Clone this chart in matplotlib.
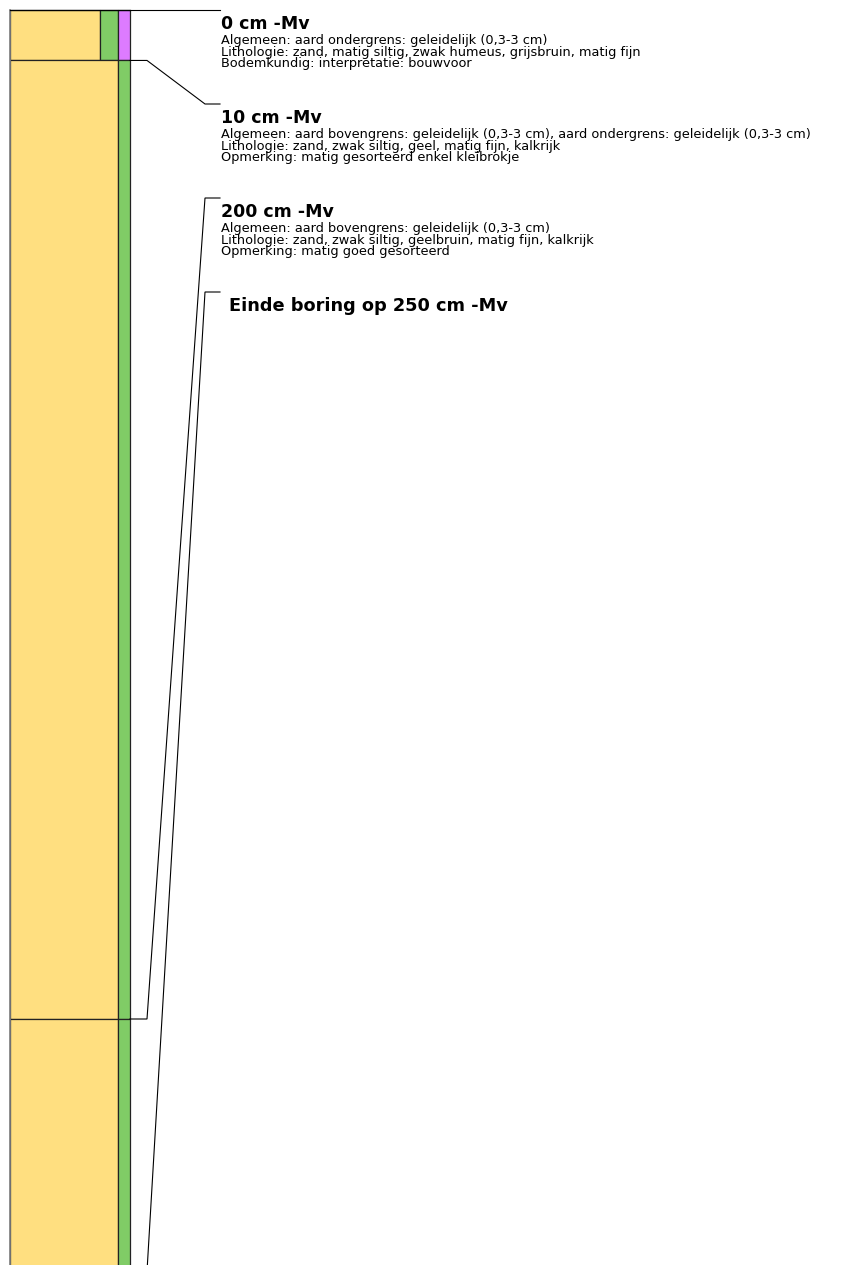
import matplotlib
matplotlib.use("Agg")
import matplotlib.pyplot as plt
from matplotlib.patches import Rectangle

# ---- data ----
layer_tops = [0, 10, 200]          # cm -Mv
layer_bottoms = [10, 200, 250]     # cm -Mv
# colour components of every layer (left to right)
layer_colors = [["#FFDF80", "#80CC66", "#DD7BFF"],
                ["#FFDF80", "#80CC66"],
                ["#FFDF80", "#80CC66"]]
layer_widths = [[90, 18, 12],
                [108, 12],
                [108, 12]]

label_depths = [0, 10, 200]
label_titles = ["0 cm -Mv", "10 cm -Mv", "200 cm -Mv"]
label_lines = [
    ["Algemeen: aard ondergrens: geleidelijk (0,3-3 cm)",
     "Lithologie: zand, matig siltig, zwak humeus, grijsbruin, matig fijn",
     "Bodemkundig: interpretatie: bouwvoor"],
    ["Algemeen: aard bovengrens: geleidelijk (0,3-3 cm), aard ondergrens: geleidelijk (0,3-3 cm)",
     "Lithologie: zand, zwak siltig, geel, matig fijn, kalkrijk",
     "Opmerking: matig gesorteerd enkel kleibrokje"],
    ["Algemeen: aard bovengrens: geleidelijk (0,3-3 cm)",
     "Lithologie: zand, zwak siltig, geelbruin, matig fijn, kalkrijk",
     "Opmerking: matig goed gesorteerd"],
]
end_depth = 250
end_text = "Einde boring op 250 cm -Mv"

# ---- layout ----
W, H = 866, 1265
TOP_PX = 10
PX_PER_CM = (1019 - 10) / 200.0
COL_X0 = 10


def px2cm(ypx):
    return (ypx - TOP_PX) / PX_PER_CM


plt.rcParams["font.family"] = ["DejaVu Sans"]
fig = plt.figure(figsize=(W / 100, H / 100), dpi=100)
ax = fig.add_axes([0, 0, 1, 1])
ax.set_xlim(0, W)
ax.set_ylim(px2cm(H), px2cm(0))
ax.axis("off")

# column
for top, bot, cols, wids in zip(layer_tops, layer_bottoms, layer_colors, layer_widths):
    x = COL_X0
    for c, w in zip(cols, wids):
        ax.add_patch(Rectangle((x, top), w, bot - top, facecolor=c,
                               edgecolor="#222222", linewidth=0.9, zorder=2))
        x += w
col_right = COL_X0 + sum(layer_widths[0])
# grey outer left edge
ax.plot([COL_X0, COL_X0], [layer_tops[0], layer_bottoms[-1]], color="#808080",
        linewidth=1.2, zorder=3)
ax.plot([COL_X0, col_right], [0, 0], color="black", linewidth=0.9, zorder=3)

# labels and leader lines
BLOCK_PX = 94
leader_px = [TOP_PX + i * BLOCK_PX for i in range(len(label_depths) + 1)]
depths_all = label_depths + [end_depth]
for i, d in enumerate(depths_all):
    ly = px2cm(leader_px[i])
    ax.plot([col_right, 147, 205, 220], [d, d, ly, ly], color="black",
            linewidth=0.8, zorder=3, solid_joinstyle="miter", clip_on=False)

for i, (title, lines) in enumerate(zip(label_titles, label_lines)):
    base = leader_px[i]
    ax.text(221, px2cm(base + 19), title, fontsize=12.5, fontweight="bold",
            va="baseline", ha="left")
    for j, ln in enumerate(lines):
        ax.text(221, px2cm(base + 34 + j * 11.6), ln, fontsize=9.3,
                va="baseline", ha="left")

ax.text(229, px2cm(leader_px[-1] + 19), end_text, fontsize=12.8,
        fontweight="bold", va="baseline", ha="left")

fig.savefig("out.png", dpi=100)
